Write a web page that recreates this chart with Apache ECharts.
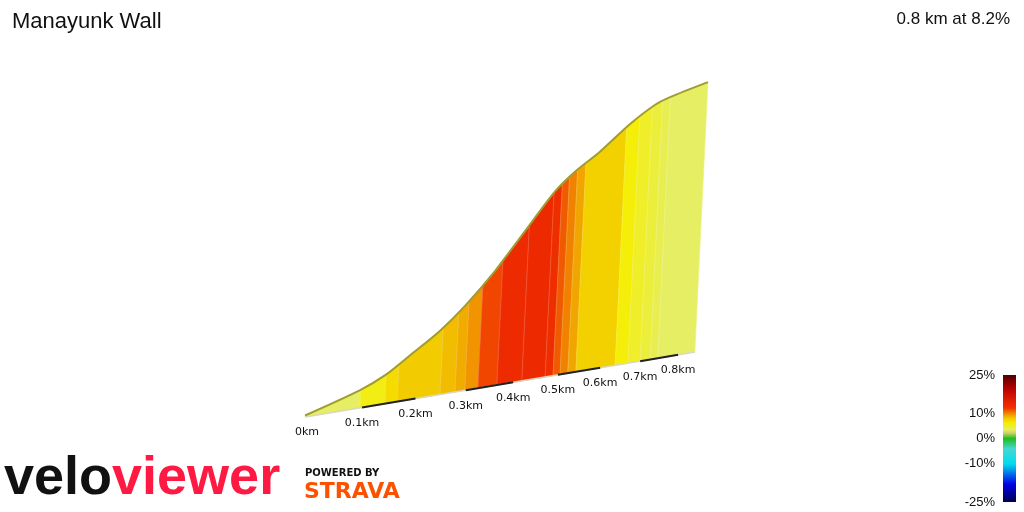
<!DOCTYPE html>
<html>
<head>
<meta charset="utf-8">
<script src="https://cdn.jsdelivr.net/npm/echarts@6/dist/echarts.min.js"></script>
<style>html,body{margin:0;padding:0;background:#fff}#main{width:1024px;height:512px}</style>
</head>
<body>
<div id="main"></div>
<script>
// profile outline: distance (km) and elevation (m)
var profileDist = [0, 0.095, 0.140, 0.185, 0.242, 0.290, 0.349, 0.410, 0.473, 0.517, 0.574, 0.645, 0.706, 0.745, 0.846];
var profileElev = [0.3, 3.7, 6.05, 9.5, 14.0, 18.8, 25.9, 34.4, 43.2, 47.6, 52.2, 58.8, 63.5, 65.5, 69.5];
// coloured segments: start distance (km) and gradient (%)
var segStart = [0, 0.096, 0.142, 0.165, 0.248, 0.278, 0.298, 0.325, 0.365, 0.419, 0.471, 0.489, 0.505, 0.523, 0.542, 0.637, 0.669, 0.700, 0.726, 0.746];
var segGrad = [3.5, 5.5, 7, 7.8, 8.3, 8.8, 9.5, 11.5, 13, 13.2, 12.5, 11, 10, 9, 7.6, 5.8, 5, 4.5, 4, 3.5];
var totalDist = 0.846;
var tickKm = [0, 0.1, 0.2, 0.3, 0.4, 0.5, 0.6, 0.7, 0.8];
var tickLabels = ['0km', '0.1km', '0.2km', '0.3km', '0.4km', '0.5km', '0.6km', '0.7km', '0.8km'];
var scaleVals = [25, 10, 0, -10, -25];

var stops = [
  [-25, [0, 0, 80]], [-18, [0, 0, 230]], [-10, [0, 220, 240]], [-4, [70, 215, 210]],
  [0, [30, 190, 30]], [2, [200, 205, 100]], [3.5, [230, 238, 100]], [6, [245, 238, 0]],
  [8, [242, 200, 0]], [10, [240, 130, 0]], [12, [240, 50, 0]], [14, [235, 35, 0]],
  [20, [180, 0, 0]], [25, [80, 0, 0]]
];
function gradColor(g) {
  for (var i = 1; i < stops.length; i++) {
    if (g <= stops[i][0]) {
      var a = stops[i - 1], b = stops[i], t = (g - a[0]) / (b[0] - a[0]);
      var c = a[1].map(function (v, k) { return Math.round(v + (b[1][k] - v) * t); });
      return 'rgb(' + c.join(',') + ')';
    }
  }
  return 'rgb(80,0,0)';
}
function elevAt(d) {
  for (var i = 1; i < profileDist.length; i++) {
    if (d <= profileDist[i]) {
      var t = (d - profileDist[i - 1]) / (profileDist[i] - profileDist[i - 1]);
      return profileElev[i - 1] + (profileElev[i] - profileElev[i - 1]) * t;
    }
  }
  return profileElev[profileElev.length - 1];
}

var B = 0.328; // perspective depth
function project(api, d, h) {
  var o = api.coord([0, 0]);
  var p = api.coord([d, h]);
  var s = 1 / (1 + B * d);
  var dx = (p[0] - o[0]) * s;
  var hs = (o[1] - p[1]) * s;
  return [o[0] + dx + 0.0485 * hs, o[1] - dx / 6 - hs];
}

var segData = segStart.map(function (s, i) {
  return [s, i + 1 < segStart.length ? segStart[i + 1] : totalDist, segGrad[i]];
});

var chart = echarts.init(document.getElementById('main'));
chart.setOption({
  animation: false,
  grid: { left: 305, right: 130.3, top: 20.2, bottom: 95 },
  xAxis: { type: 'value', min: 0, max: 1, show: false },
  yAxis: { type: 'value', min: 0, max: 80, show: false },
  series: [{
    type: 'custom',
    data: segData,
    renderItem: function (params, api) {
      var d0 = api.value(0), d1 = api.value(1), g = api.value(2);
      var pts = [project(api, d0, 0), project(api, d0, elevAt(d0))];
      profileDist.forEach(function (d, k) {
        if (d > d0 && d < d1) pts.push(project(api, d, profileElev[k]));
      });
      pts.push(project(api, d1, elevAt(d1)), project(api, d1, 0));
      var col = gradColor(g);
      return {
        type: 'polygon',
        shape: { points: pts },
        style: { fill: col, stroke: echarts.color.lift(col, 0.2), lineWidth: 0.7 }
      };
    }
  }, {
    type: 'custom',
    data: [[0]],
    renderItem: function (params, api) {
      var top = profileDist.map(function (d, k) { return project(api, d, profileElev[k]); });
      var kids = [{ type: 'polyline', shape: { points: top, smooth: 0.3 }, style: { stroke: '#a09c30', lineWidth: 2, fill: null } },
        { type: 'polyline', shape: { points: [project(api, 0, 0), project(api, totalDist, 0)] }, style: { stroke: '#d8d8c0', lineWidth: 1.5 } }];
      for (var i = 1; i < tickKm.length - 1; i += 2) {
        kids.push({ type: 'line', shape: { x1: project(api, tickKm[i], 0)[0], y1: project(api, tickKm[i], 0)[1],
          x2: project(api, tickKm[i + 1], 0)[0], y2: project(api, tickKm[i + 1], 0)[1] }, style: { stroke: '#222', lineWidth: 2 } });
      }
      tickKm.forEach(function (d, i) {
        var p = project(api, d, 0);
        kids.push({ type: 'text', x: p[0] + (i === 0 ? 2 : 0), y: p[1] + 10, style: { text: tickLabels[i], fill: '#111',
          font: '11px "DejaVu Sans"', align: 'center', verticalAlign: 'top' } });
      });
      return { type: 'group', children: kids };
    }
  }],
  graphic: [
    { type: 'text', left: 12, top: 11, style: { text: 'Manayunk Wall', fill: '#111', font: '22px "Liberation Sans"' } },
    { type: 'text', right: 14, top: 11, style: { text: '0.8 km at 8.2%', fill: '#111', font: '17px "Liberation Sans"' } },
    { type: 'rect', shape: { x: 1003, y: 375, width: 13, height: 127 },
      style: { fill: new echarts.graphic.LinearGradient(0, 0, 0, 1, stops.slice().reverse().map(function (s) {
        return { offset: (25 - s[0]) / 50, color: 'rgb(' + s[1].join(',') + ')' };
      })) } }
  ].concat(scaleVals.map(function (v) {
    return { type: 'text', x: 995, y: 375 + (25 - v) / 50 * 127, style: { text: v + '%', fill: '#111',
      font: '13px "Liberation Sans"', align: 'right', verticalAlign: 'middle' } };
  })).concat([
    { type: 'text', x: 4, y: 506, style: { text: '{a|velo}{b|viewer}', verticalAlign: 'bottom',
      rich: { a: { fill: '#111', font: 'bold 54px "Liberation Sans"' }, b: { fill: '#ff1a44', font: 'bold 54px "Liberation Sans"' } },
      letterSpacing: -3 } },
    { type: 'text', x: 305, y: 468, style: { text: 'POWERED BY', fill: '#111', font: 'bold 10px "DejaVu Sans"' } },
    { type: 'text', x: 304, y: 481, style: { text: 'STRAVA', fill: '#fc5200', font: 'bold 22px "DejaVu Sans"' } }
  ])
});
</script>
</body>
</html>
